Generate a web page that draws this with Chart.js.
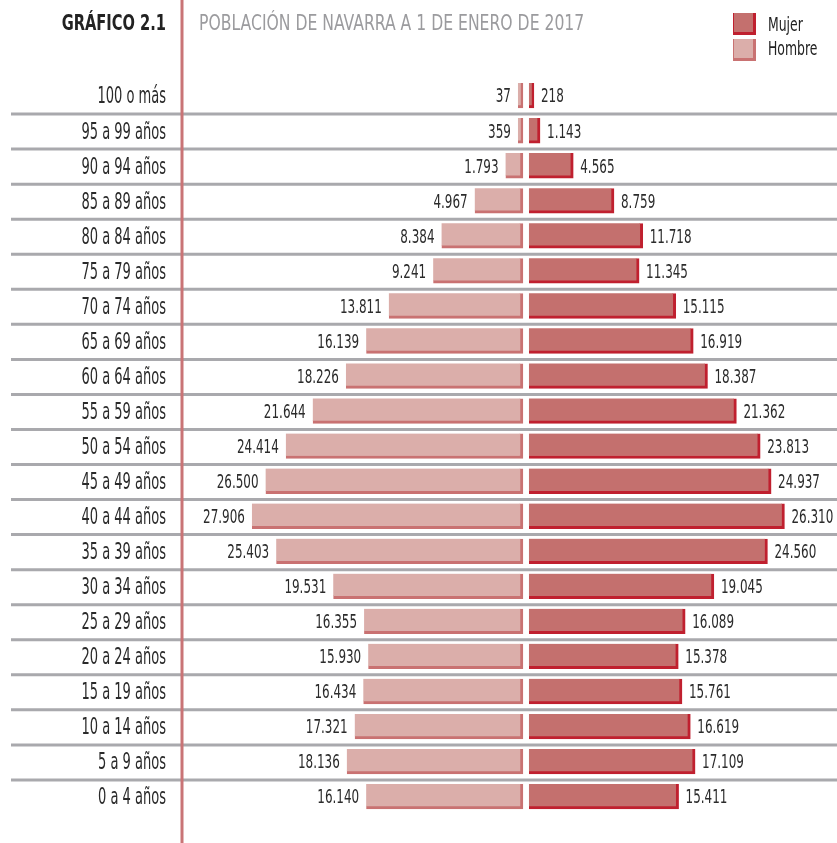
<!DOCTYPE html>
<html>
<head>
<meta charset="utf-8">
<script src="https://cdn.jsdelivr.net/npm/chart.js@4.4.0/dist/chart.umd.min.js"></script>
<style>
  body { margin: 0; background: #fff; }
  canvas { display: block; }
</style>
</head>
<body>
<canvas id="pyramid-chart" width="837" height="843"></canvas>
<script>
// Poblacion de Navarra a 1 de enero de 2017
var ageGroups = ["100 o más", "95 a 99 años", "90 a 94 años", "85 a 89 años", "80 a 84 años", "75 a 79 años",
    "70 a 74 años", "65 a 69 años", "60 a 64 años", "55 a 59 años", "50 a 54 años", "45 a 49 años",
    "40 a 44 años", "35 a 39 años", "30 a 34 años", "25 a 29 años", "20 a 24 años", "15 a 19 años",
    "10 a 14 años", "5 a 9 años", "0 a 4 años"];
var mujer = [218, 1143, 4565, 8759, 11718, 11345, 15115, 16919, 18387, 21362, 23813, 24937,
    26310, 24560, 19045, 16089, 15378, 15761, 16619, 17109, 15411];
var hombre = [37, 359, 1793, 4967, 8384, 9241, 13811, 16139, 18226, 21644, 24414, 26500,
    27906, 25403, 19531, 16355, 15930, 16434, 17321, 18136, 16140];
var seriesNames = ["Mujer", "Hombre"];

var FONT = "'DejaVu Sans Condensed', 'DejaVu Sans', sans-serif";
var GAP = 3;

function fmt(v) {
    return String(Math.abs(v)).replace(/\B(?=(\d{3})+(?!\d))/g, ".");
}

// no condensed font like the original, so squeeze the text horizontally
function condText(ctx, text, x, y, align, font, sx, color) {
    ctx.save();
    ctx.font = font;
    ctx.fillStyle = color;
    ctx.textAlign = align;
    ctx.textBaseline = "middle";
    ctx.translate(x, y);
    ctx.scale(sx, 1);
    ctx.fillText(text, 0, 0);
    ctx.restore();
}

// shift each side a bit so there's a gap in the middle
var gapPlugin = {
    id: 'gap',
    beforeDatasetDraw: function (chart, args) {
        chart.ctx.save();
        chart.ctx.translate(args.index === 0 ? GAP : -GAP, -1);
    },
    afterDatasetDraw: function (chart) {
        chart.ctx.restore();
    }
};

var decoPlugin = {
    id: 'deco',
    beforeDatasetsDraw: function (chart) {
        var ctx = chart.ctx;
        var y = chart.scales.y;
        ctx.save();
        ctx.strokeStyle = "#a9a9ad";
        ctx.lineWidth = 3;
        for (var i = 0; i < ageGroups.length - 1; i++) {
            var py = (y.getPixelForValue(i) + y.getPixelForValue(i + 1)) / 2;
            ctx.beginPath();
            ctx.moveTo(11, py);
            ctx.lineTo(837, py);
            ctx.stroke();
        }
        // red divider
        ctx.strokeStyle = "#c97476";
        ctx.lineWidth = 3;
        ctx.beginPath();
        ctx.moveTo(182, 0);
        ctx.lineTo(182, 843);
        ctx.stroke();
        ctx.restore();

        // category labels
        for (var j = 0; j < ageGroups.length; j++) {
            condText(ctx, y.getLabelForValue(j), 166, y.getPixelForValue(j) + 1, "right",
                "23px " + FONT, 0.63, "#2a2a2a");
        }

        // title
        condText(ctx, "GRÁFICO 2.1", 166, 24.5, "right", "bold 22px " + FONT, 0.74, "#222");
        condText(ctx, "POBLACIÓN DE NAVARRA A 1 DE ENERO DE 2017", 199, 24.5, "left",
            "22px " + FONT, 0.79, "#9b9b9e");

        // legend
        var boxes = [
            { name: seriesNames[0], bg: "#c4706e", bd: "#c0202f", y: 13, ty: 25.5 },
            { name: seriesNames[1], bg: "#dbaeaa", bd: "#c97272", y: 39, ty: 49.5 }
        ];
        boxes.forEach(function (b) {
            ctx.fillStyle = b.bd;
            ctx.fillRect(733, b.y, 23, 22);
            ctx.fillStyle = b.bg;
            ctx.fillRect(734, b.y, 19, 19);
            condText(ctx, b.name, 768, b.ty, "left", "20px " + FONT, 0.69, "#222");
        });
    },
    afterDatasetsDraw: function (chart) {
        var ctx = chart.ctx;
        chart.data.datasets.forEach(function (ds, di) {
            var meta = chart.getDatasetMeta(di);
            meta.data.forEach(function (bar, i) {
                if (di === 0) {
                    condText(ctx, fmt(ds.data[i]), bar.x + GAP + 7, bar.y + 1, "left",
                        "19px " + FONT, 0.7, "#2b2b2b");
                } else {
                    condText(ctx, fmt(ds.data[i]), bar.x - GAP - 7, bar.y + 1, "right",
                        "19px " + FONT, 0.7, "#2b2b2b");
                }
            });
        });
    }
};

var ctx = document.getElementById('pyramid-chart').getContext('2d');
var myChart = new Chart(ctx, {
    type: 'bar',
    data: {
        labels: ageGroups,
        datasets: [
            {
                label: seriesNames[0],
                data: mujer,
                backgroundColor: "#c4706e",
                borderColor: "#c0202f",
                borderWidth: { top: 0, left: 0, right: 3, bottom: 3 },
                borderSkipped: false,
                barThickness: 25,
                minBarLength: 5
            },
            {
                label: seriesNames[1],
                data: hombre.map(function (v) { return -v; }),
                backgroundColor: "#dbaeaa",
                borderColor: "#c97272",
                borderWidth: { top: 0, left: 0, right: 3, bottom: 3 },
                borderSkipped: false,
                barThickness: 25,
                minBarLength: 5
            }
        ]
    },
    options: {
        indexAxis: 'y',
        responsive: false,
        animation: false,
        layout: { padding: { top: 79, bottom: 28, left: 0, right: 10 } },
        plugins: {
            legend: { display: false },
            tooltip: { enabled: false }
        },
        scales: {
            x: {
                display: false,
                stacked: true,
                min: -35000,
                max: 31000
            },
            y: {
                stacked: true,
                grid: { display: false, drawTicks: false },
                border: { display: false },
                ticks: { display: false },
                afterFit: function (scale) { scale.width = 186; }
            }
        }
    },
    plugins: [gapPlugin, decoPlugin]
});
</script>
</body>
</html>
